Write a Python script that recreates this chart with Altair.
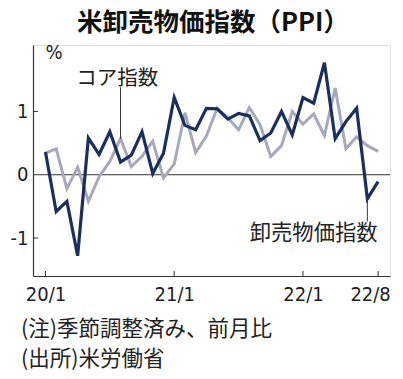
import altair as alt
import pandas as pd

# ---- data ----
months = list(range(32))  # 2020/1 .. 2022/8
ppi = [0.36, -0.58, -0.42, -1.28, 0.58, 0.32, 0.68, 0.20, 0.31, 0.68, 0.02, 0.34,
       1.22, 0.78, 0.71, 1.05, 1.04, 0.88, 0.97, 0.93, 0.54, 0.66, 1.00, 0.63,
       1.22, 1.13, 1.77, 0.57, 0.84, 1.05, -0.38, -0.11]
core = [0.34, 0.41, -0.22, 0.12, -0.42, -0.03, 0.21, 0.57, 0.13, 0.29, 0.53, -0.05,
        0.17, 0.98, 0.35, 0.61, 1.05, 0.90, 0.71, 1.06, 0.79, 0.29, 0.46, 1.00,
        0.80, 0.96, 0.62, 1.37, 0.41, 0.60, 0.46, 0.37]
tick_vals = [0, 12, 24, 31]
tick_labels = ["20/1", "21/1", "22/1", "22/8"]
y_tick_vals = [-1, 0, 1]
y_minor_ticks = [-1, 1]

title_text = "米卸売物価指数（PPI）"
note1 = "(注)季節調整済み、前月比"
note2 = "(出所)米労働省"
core_name = "コア指数"
ppi_name = "卸売物価指数"

NAVY = "#1b2f5f"
GRAY = "#a6a9b9"
AXIS = "#333333"
CJK = "Noto Sans CJK JP"
NUM = "DejaVu Sans Condensed"

W, H = 357, 231
xs = alt.Scale(domain=[-1.16, 32.11], nice=False, zero=False)
ys = alt.Scale(domain=[-1.6, 2.05], nice=False, zero=False)

df = pd.DataFrame({"m": months, "ppi": ppi, "core": core})

expr = "''"
for v, l in zip(reversed(tick_vals), reversed(tick_labels)):
    expr = f"datum.value == {v} ? '{l}' : ({expr})"

x_axis = alt.Axis(values=tick_vals, labelExpr=expr, title=None, grid=False,
                  tickSize=0, labelPadding=8, labelFont=NUM, labelFontSize=20,
                  labelOffset={"condition": {"test": f"datum.value == {tick_vals[-1]}", "value": -8}, "value": 0},
                  labelColor="#222", domainColor=AXIS, domainWidth=1.2)
y_axis = alt.Axis(values=y_tick_vals, title=None, grid=False, tickSize=0,
                  labelExpr="datum.value < 0 ? '-' + abs(datum.value) : '' + datum.value",
                  labelPadding=5, labelFont=NUM, labelFontSize=20,
                  labelColor="#222", domainColor=AXIS, domainWidth=1.2)

base = alt.Chart(df)

core_line = base.mark_line(color=GRAY, strokeWidth=3, strokeJoin="miter").encode(
    x=alt.X("m:Q", scale=xs, axis=x_axis),
    y=alt.Y("core:Q", scale=ys, axis=y_axis),
)
ppi_line = base.mark_line(color=NAVY, strokeWidth=3.2, strokeJoin="miter").encode(
    x=alt.X("m:Q", scale=xs),
    y=alt.Y("ppi:Q", scale=ys),
)

zero_rule = alt.Chart(pd.DataFrame({"z": [0]})).mark_rule(color=AXIS, strokeWidth=1).encode(
    y=alt.Y("z:Q", scale=ys), x=alt.value(0), x2=alt.value(W)
)

xticks = alt.Chart(pd.DataFrame({"m": tick_vals})).mark_rule(color=AXIS, strokeWidth=1).encode(
    x=alt.X("m:Q", scale=xs), y=alt.value(H), y2=alt.value(H - 5)
)
yticks = alt.Chart(pd.DataFrame({"v": y_minor_ticks})).mark_rule(color=AXIS, strokeWidth=1).encode(
    y=alt.Y("v:Q", scale=ys), x=alt.value(0), x2=alt.value(5)
)

leader_core = alt.Chart(pd.DataFrame({"m": [7], "a": [core[7]], "b": [1.38]})).mark_rule(
    color=AXIS, strokeWidth=1).encode(
    x=alt.X("m:Q", scale=xs), y=alt.Y("a:Q", scale=ys), y2="b:Q")
leader_ppi = alt.Chart(pd.DataFrame({"m": [30], "a": [ppi[30]], "b": [-0.74]})).mark_rule(
    color=AXIS, strokeWidth=1).encode(
    x=alt.X("m:Q", scale=xs), y=alt.Y("a:Q", scale=ys), y2="b:Q")

lab_core = alt.Chart(pd.DataFrame({"m": [6.7], "v": [1.52], "t": [core_name]})).mark_text(
    font=CJK, fontSize=20.5, color="#222", align="center", baseline="middle").encode(
    x=alt.X("m:Q", scale=xs), y=alt.Y("v:Q", scale=ys), text="t:N")
lab_ppi = alt.Chart(pd.DataFrame({"m": [30.95], "v": [-0.93], "t": [ppi_name]})).mark_text(
    font=CJK, fontSize=21.3, color="#222", align="right", baseline="middle").encode(
    x=alt.X("m:Q", scale=xs), y=alt.Y("v:Q", scale=ys), text="t:N")

pct = alt.Chart(pd.DataFrame({"t": ["%"]})).mark_text(
    font=NUM, fontSize=20, color="#222", align="center", baseline="middle").encode(
    x=alt.value(21), y=alt.value(8), text="t:N")

title = alt.Chart(pd.DataFrame({"t": [title_text]})).mark_text(
    font=CJK, fontSize=25.5, fontWeight="bold", color="#111", align="center", baseline="middle").encode(
    x=alt.value(180), y=alt.value(-22), text="t:N")

notes = alt.Chart(pd.DataFrame({"t": [note1, note2], "yy": [285, 315]})).mark_text(
    font=CJK, fontSize=21.5, color="#222", align="left", baseline="middle").encode(
    x=alt.value(-12), y=alt.Y("yy:Q", scale=None), text="t:N")

chart = alt.layer(
    zero_rule, xticks, yticks, core_line, ppi_line, leader_core, leader_ppi,
    lab_core, lab_ppi, pct, title, notes
).properties(
    width=W, height=H,
    autosize=alt.AutoSizeParams(type="none"),
    padding={"left": 25, "top": 37, "right": 5, "bottom": 95},
).configure_view(stroke=None).configure(background="white")

chart.save("out.html", embed_options={"renderer": "svg", "actions": False})
